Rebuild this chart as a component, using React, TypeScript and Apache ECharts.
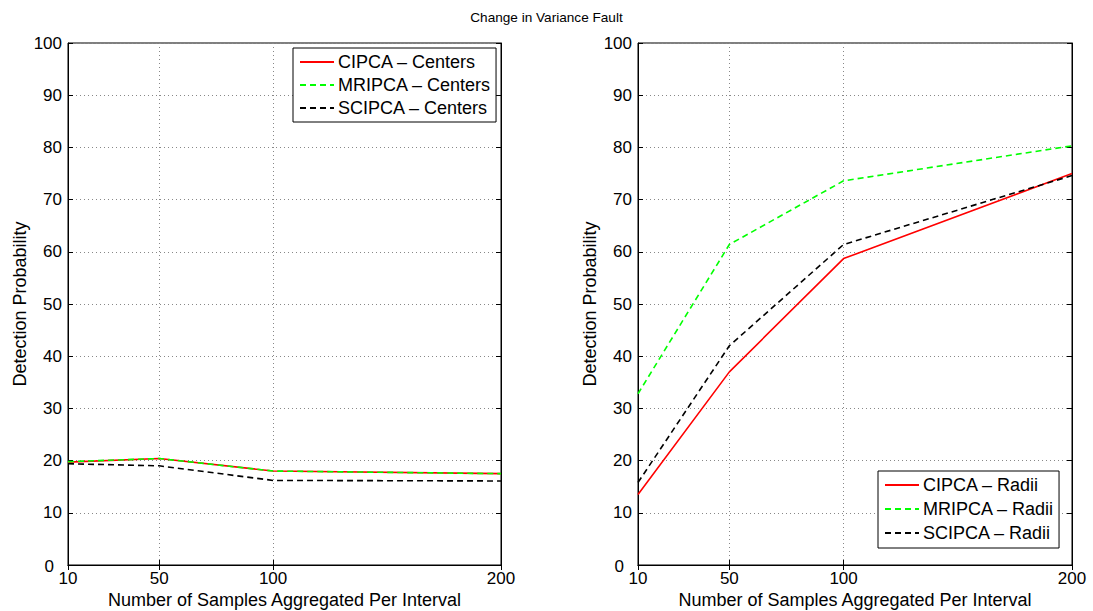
import React, { useEffect, useRef } from "react";
import * as echarts from "echarts";

const xValues = [10, 50, 100, 200];
const xTicks = [10, 50, 100, 200];

const cipcaCenters = [19.7, 20.4, 18.0, 17.5];
const mripcaCenters = [19.8, 20.4, 18.0, 17.5];
const scipcaCenters = [19.4, 19.0, 16.2, 16.1];

const cipcaRadii = [13.5, 37.0, 58.7, 75.0];
const mripcaRadii = [32.8, 61.4, 73.6, 80.3];
const scipcaRadii = [15.8, 42.0, 61.4, 74.6];

const FONT = "Liberation Sans, Arial, Helvetica, sans-serif";

const pairs = (ys: number[]) => xValues.map((x, i) => [x, ys[i]]);

export default function App() {
  const ref = useRef<HTMLDivElement>(null);
  useEffect(() => {
    if (!ref.current) return;
    const chart = echarts.init(ref.current, null, { renderer: "svg" });
    const grids = [
      { left: 68, top: 43, width: 433, height: 522 },
      { left: 638, top: 43, width: 434, height: 522 },
    ];
    const mkX = (gi: number) => ({
      type: "value",
      gridIndex: gi,
      min: 10,
      max: 200,
      name: "Number of Samples Aggregated Per Interval",
      nameLocation: "middle",
      nameGap: 24,
      nameTextStyle: { fontFamily: FONT, fontSize: 18, color: "#000", lineHeight: 18 },
      axisLine: { lineStyle: { color: "#000", width: 1 } },
      axisTick: { inside: true, length: 5, customValues: xTicks, lineStyle: { color: "#000" } },
      axisLabel: { customValues: xTicks, fontFamily: FONT, fontSize: 17, lineHeight: 12, color: "#000", margin: 7, showMinLabel: true, showMaxLabel: true },
      splitLine: { show: true, lineStyle: { color: "#888", type: [1, 3], width: 1 } },
    });
    const mkXTop = (gi: number) => ({
      type: "value",
      gridIndex: gi,
      position: "top",
      min: 10,
      max: 200,
      axisLine: { lineStyle: { color: "#000" } },
      axisTick: { inside: true, length: 5, customValues: xTicks, lineStyle: { color: "#000" } },
      axisLabel: { show: false },
      splitLine: { show: false },
    });
    const mkY = (gi: number) => ({
      type: "value",
      gridIndex: gi,
      min: 0,
      max: 100,
      interval: 10,
      name: "Detection Probability",
      nameLocation: "middle",
      nameGap: 39,
      nameTextStyle: { fontFamily: FONT, fontSize: 18, color: "#000" },
      axisLine: { show: true, lineStyle: { color: "#000" } },
      axisTick: { show: true, inside: true, length: 5, lineStyle: { color: "#000" } },
      axisLabel: {
        fontFamily: FONT,
        fontSize: 17,
        lineHeight: 12,
        color: "#000",
        margin: 6,
        formatter: (v: number) => (v === 0 ? "{z|0}" : String(v)),
        rich: { z: { fontFamily: FONT, fontSize: 17, lineHeight: 12, color: "#000", padding: [3, 8, 0, 0] } },
      },
      splitLine: { show: true, lineStyle: { color: "#888", type: [1, 3], width: 1 } },
    });
    const mkYRight = (gi: number) => ({
      type: "value",
      gridIndex: gi,
      position: "right",
      min: 0,
      max: 100,
      interval: 10,
      axisLine: { show: true, lineStyle: { color: "#000" } },
      axisTick: { show: true, inside: true, length: 5, lineStyle: { color: "#000" } },
      axisLabel: { show: false },
      splitLine: { show: false },
    });
    const line = (name: string, data: number[], color: string, dashed: boolean) => ({
      type: "line",
      name,
      data: pairs(data),
      showSymbol: false,
      symbol: "none",
      lineStyle: { color, width: 1.6, type: dashed ? [6, 4] : "solid" },
      itemStyle: { color },
      z: dashed ? 3 : 2,
    });
    const legendBase = {
      orient: "vertical",
      backgroundColor: "#fff",
      borderColor: "#000",
      borderWidth: 1,
      itemWidth: 34,
      itemHeight: 17,
      itemGap: 5,
      padding: [5, 5, 5, 6],
      itemStyle: { opacity: 0 },
      textStyle: { fontFamily: FONT, fontSize: 18, color: "#000", padding: [0, 0, 0, -1] },
    };
    chart.setOption({
      animation: false,
      backgroundColor: "#fff",
      title: {
        text: "Change in Variance Fault",
        left: "center",
        top: 10,
        padding: 0,
        textStyle: { fontFamily: FONT, fontSize: 13.6, fontWeight: "normal", color: "#000" },
      },
      grid: grids.map((g) => ({
        ...g,
        show: true,
        borderColor: "#000",
        borderWidth: 1,
        backgroundColor: "#fff",
        containLabel: false,
        outerBoundsMode: "none",
      })),
      xAxis: [mkX(0), mkXTop(0), mkX(1), mkXTop(1)].map((a, i) => ({ ...a, gridIndex: i < 2 ? 0 : 1 })),
      yAxis: [mkY(0), mkYRight(0), mkY(1), mkYRight(1)].map((a, i) => ({ ...a, gridIndex: i < 2 ? 0 : 1 })),
      legend: [
        {
          ...legendBase,
          left: 293,
          top: 48,
          data: ["CIPCA – Centers", "MRIPCA – Centers", "SCIPCA – Centers"],
        },
        {
          ...legendBase,
          left: 878,
          top: 471,
          itemGap: 6,
          padding: [5, 5, 6, 6],
          data: ["CIPCA – Radii", "MRIPCA – Radii", "SCIPCA – Radii"],
        },
      ],
      series: [
        { ...line("CIPCA – Centers", cipcaCenters, "#ff0000", false), xAxisIndex: 0, yAxisIndex: 0 },
        { ...line("MRIPCA – Centers", mripcaCenters, "#00ff00", true), xAxisIndex: 0, yAxisIndex: 0 },
        { ...line("SCIPCA – Centers", scipcaCenters, "#000000", true), xAxisIndex: 0, yAxisIndex: 0 },
        { ...line("CIPCA – Radii", cipcaRadii, "#ff0000", false), xAxisIndex: 2, yAxisIndex: 2 },
        { ...line("MRIPCA – Radii", mripcaRadii, "#00ff00", true), xAxisIndex: 2, yAxisIndex: 2 },
        { ...line("SCIPCA – Radii", scipcaRadii, "#000000", true), xAxisIndex: 2, yAxisIndex: 2 },
      ],
    });
    return () => chart.dispose();
  }, []);
  return (
    <div
      ref={ref}
      style={{ position: "fixed", left: 0, top: 0, width: 1093, height: 611, background: "#fff" }}
    />
  );
}
